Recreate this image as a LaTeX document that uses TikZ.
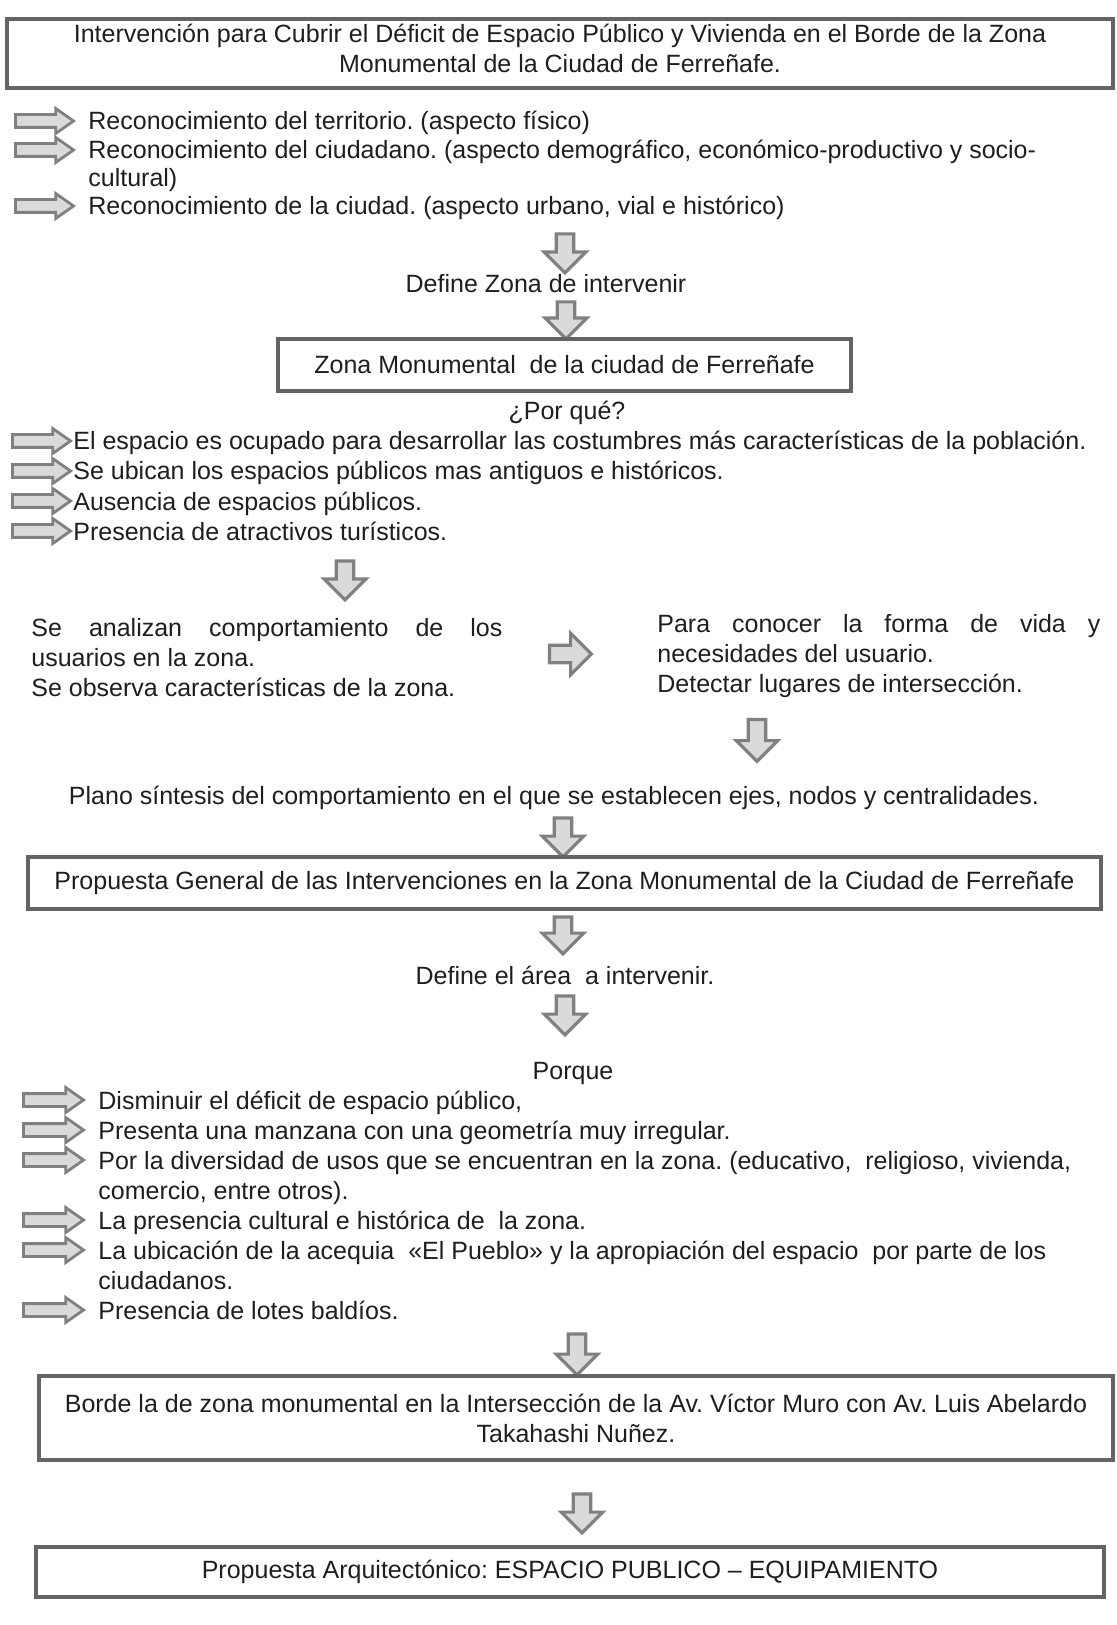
\documentclass[tikz,border=0pt]{standalone}
\usepackage{fontspec}
\setmainfont{Liberation Sans}
\usetikzlibrary{shapes.arrows,positioning}
\frenchspacing

\definecolor{tinta}{RGB}{30,30,30}
\definecolor{marco}{RGB}{100,100,100}
\definecolor{flechagris}{RGB}{128,128,128}
\definecolor{flecharelleno}{RGB}{218,218,218}

\tikzset{
  linea/.style={text=tinta, inner sep=0pt, text height=9pt, text depth=0pt},
  item/.style={linea, anchor=west},
  caja/.style={draw=marco, line width=2pt, text=tinta, align=center, inner sep=0pt},
  parrafo/.style={text=tinta, inner sep=0pt, anchor=north west, align=justify},
  bajar/.style={single arrow, shape border rotate=270, draw=flechagris, fill=flecharelleno,
    line width=1.6pt, inner sep=3.6pt, single arrow head extend=6pt, minimum height=19.5pt},
  avanzar/.style={bajar, shape border rotate=0},
  punta/.style={single arrow, draw=flechagris, fill=flecharelleno, single arrow tip angle=70,
    line width=1.4pt, inner sep=2.5pt, single arrow head extend=3pt, minimum height=29pt}
}

\begin{document}
\begin{tikzpicture}[x=0.5pt, y=-0.5pt, font=\fontsize{12.5}{15}\selectfont]
  \useasboundingbox (0,0) rectangle (1116,1625);

  \node[caja, minimum width=553pt, minimum height=34.5pt, text depth=5pt] (titulo) at (560,53.5)
    {Intervención para Cubrir el Déficit de Espacio Público y Vivienda en el Borde de la Zona\\
     Monumental de la Ciudad de Ferreñafe.};

  % reconocimiento
  \node[item] (r1) at (88,121) {Reconocimiento del territorio. (aspecto físico)};
  \node[item] (r2) at (88,150) {Reconocimiento del ciudadano. (aspecto demográfico, económico-productivo y socio-};
  \node[item] (r2b) at (88,178) {cultural)};
  \node[item] (r3) at (88,206) {Reconocimiento de la ciudad. (aspecto urbano, vial e histórico)};
  \foreach \n in {r1,r2,r3}
    \node[punta, left=6pt of \n] (f\n) {};

  \node[bajar] (b1) at (565,249) {};
  \node[linea] (defzona) at (546,284) {Define Zona de intervenir};
  \node[bajar, minimum height=18.5pt] (b2) at (566,316) {};

  \node[caja, minimum width=286.5pt, minimum height=26pt] (zona) at (564.5,365)
    {Zona Monumental\ \ de la ciudad de Ferreñafe};
  \node[linea] (porque1) at (567,411) {¿Por qué?};

  % por que
  \node[item] (e1) at (73,441) {El espacio es ocupado para desarrollar las costumbres más características de la población.};
  \node[item] (e2) at (73,471) {Se ubican los espacios públicos mas antiguos e históricos.};
  \node[item] (e3) at (73,501) {Ausencia de espacios públicos.};
  \node[item] (e4) at (73,531) {Presencia de atractivos turísticos.};
  \foreach \n in {e1,e2,e3,e4}
    \node[punta, left=0pt of \n] (f\n) {};

  \node[bajar] (b3) at (345,576) {};
  \node[parrafo, text width=235.5pt] (analiza) at (31,615)
    {\strut Se analizan comportamiento de los\linebreak usuarios en la zona.\\
     Se observa características de la zona.};
  \node[avanzar, minimum height=21pt] (d1) at (566,654) {};
  \node[parrafo, text width=221.5pt] (conoce) at (657,611)
    {\strut Para conocer la forma de vida y\linebreak necesidades del usuario.\\
     Detectar lugares de intersección.};
  \node[bajar, minimum height=21pt] (b4) at (757,736) {};

  \node[linea] (plano) at (554,795) {Plano síntesis del comportamiento en el que se establecen ejes, nodos y centralidades.};
  \node[bajar] (b5) at (563,833) {};
  \node[caja, minimum width=536.5pt, minimum height=26pt] (general) at (564.5,883)
    {Propuesta General de las Intervenciones en la Zona Monumental de la Ciudad de Ferreñafe};
  \node[bajar, minimum height=18.5pt] (b6) at (563,931) {};
  \node[linea] (defarea) at (565,975) {Define el área\ \ a intervenir.};
  \node[bajar] (b7) at (565,1011) {};
  \node[linea] (porque2) at (573,1070) {Porque};

  % porque
  \node[item] (p1) at (98,1100) {Disminuir el déficit de espacio público,};
  \node[item] (p2) at (98,1130) {Presenta una manzana con una geometría muy irregular.};
  \node[item] (p3) at (98,1160) {Por la diversidad de usos que se encuentran en la zona. (educativo,\ \ religioso, vivienda,};
  \node[item] (p3b) at (98,1190) {comercio, entre otros).};
  \node[item] (p4) at (98,1220) {La presencia cultural e histórica de\ \ la zona.};
  \node[item] (p5) at (98,1250) {La ubicación de la acequia\ \ «El Pueblo» y la apropiación del espacio\ \ por parte de los};
  \node[item] (p5b) at (98,1280) {ciudadanos.};
  \node[item] (p6) at (98,1310) {Presencia de lotes baldíos.};
  \foreach \n in {p1,p2,p3,p4,p5,p6}
    \node[punta, minimum height=30pt, left=6pt of \n] (f\n) {};

  \node[bajar, minimum height=20.5pt] (b8) at (577,1350) {};
  \node[caja, minimum width=537pt, minimum height=42pt] (borde) at (576,1418)
    {Borde la de zona monumental en la Intersección de la Av. Víctor Muro con Av. Luis Abelardo\\
     Takahashi Nuñez.};
  \node[bajar] (b9) at (582,1509) {};
  \node[caja, minimum width=534pt, minimum height=25pt] (propuesta) at (570,1572)
    {Propuesta Arquitectónico: ESPACIO PUBLICO – EQUIPAMIENTO};
\end{tikzpicture}
\end{document}
